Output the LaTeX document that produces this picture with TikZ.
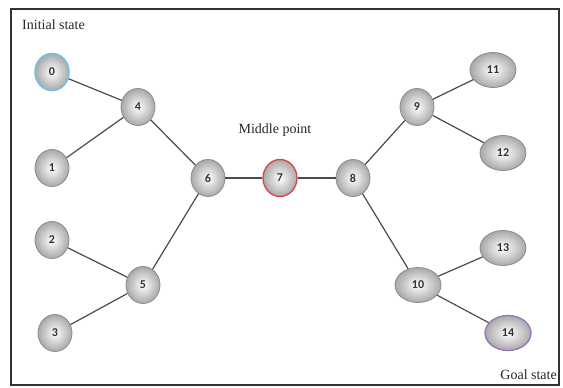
\documentclass[tikz,border=0pt]{standalone}
\usepackage{fontspec}
\setmainfont{Liberation Serif}
\newfontfamily\numfont{Carlito}
\usetikzlibrary{shapes.geometric}
\definecolor{edgegray}{RGB}{75,75,75}
\definecolor{rimgray}{RGB}{140,140,140}
\definecolor{startblue}{RGB}{120,190,225}
\definecolor{midred}{RGB}{215,70,70}
\definecolor{goalpurple}{RGB}{150,115,190}
\tikzset{
  state/.style={ellipse, draw=rimgray, line width=0.8pt, inner sep=0pt,
    shading=radial, inner color=white, outer color=gray!68,
    font=\numfont\fontsize{12}{12}\selectfont\bfseries, text=black!80},
  small/.style={state, minimum width=34pt, minimum height=37pt},
  wide/.style={state, minimum width=46pt, minimum height=35pt},
  link/.style={draw=edgegray, line width=1.2pt},
  caption/.style={font=\fontsize{14}{14}\selectfont, text=black!85, inner sep=0pt}
}
\begin{document}
\begin{tikzpicture}[x=1pt, y=-1pt]
  \useasboundingbox (0,0) rectangle (563,388);
  \draw[line width=1.6pt, draw=black!80] (11,9) rectangle (559,385);

  % left subtree
  \node[small, draw=startblue, line width=1.6pt] (n0) at (52,72) {0};
  \node[small] (n1) at (52,168) {1};
  \node[small] (n2) at (52,240) {2};
  \node[small] (n3) at (55,333) {3};
  \node[small] (n4) at (138,107) {4};
  \node[small] (n5) at (143,285) {5};
  \node[small] (n6) at (208,178) {6};

  % middle
  \node[small, draw=midred, line width=1.3pt] (n7) at (280,178) {7};
  \node[small] (n8) at (353,178) {8};

  % right subtree
  \node[small] (n9) at (417,107) {9};
  \node[wide] (n10) at (418,285) {10};
  \node[wide] (n11) at (493,70) {11};
  \node[wide] (n12) at (503,153) {12};
  \node[wide] (n13) at (503,248) {13};
  \node[wide, draw=goalpurple, line width=1.3pt] (n14) at (508,333) {14};

  % connectors
  \draw[link] (n0) -- (n4);
  \draw[link] (n1) -- (n4);
  \draw[link] (n4) -- (n6);
  \draw[link] (n2) -- (n5);
  \draw[link] (n3) -- (n5);
  \draw[link] (n5) -- (n6);
  \draw[link] (n6) -- (n7);
  \draw[link] (n7) -- (n8);
  \draw[link] (n8) -- (n9);
  \draw[link] (n9) -- (n11);
  \draw[link] (n9) -- (n12);
  \draw[link] (n8) -- (n10);
  \draw[link] (n10) -- (n13);
  \draw[link] (n10) -- (n14);

  % captions
  \node[caption, anchor=west] (initial) at (22,25) {Initial state};
  \node[caption] (middle) at (275,130) {Middle point};
  \node[caption, anchor=east] (goal) at (557,375) {Goal state};
\end{tikzpicture}
\end{document}
